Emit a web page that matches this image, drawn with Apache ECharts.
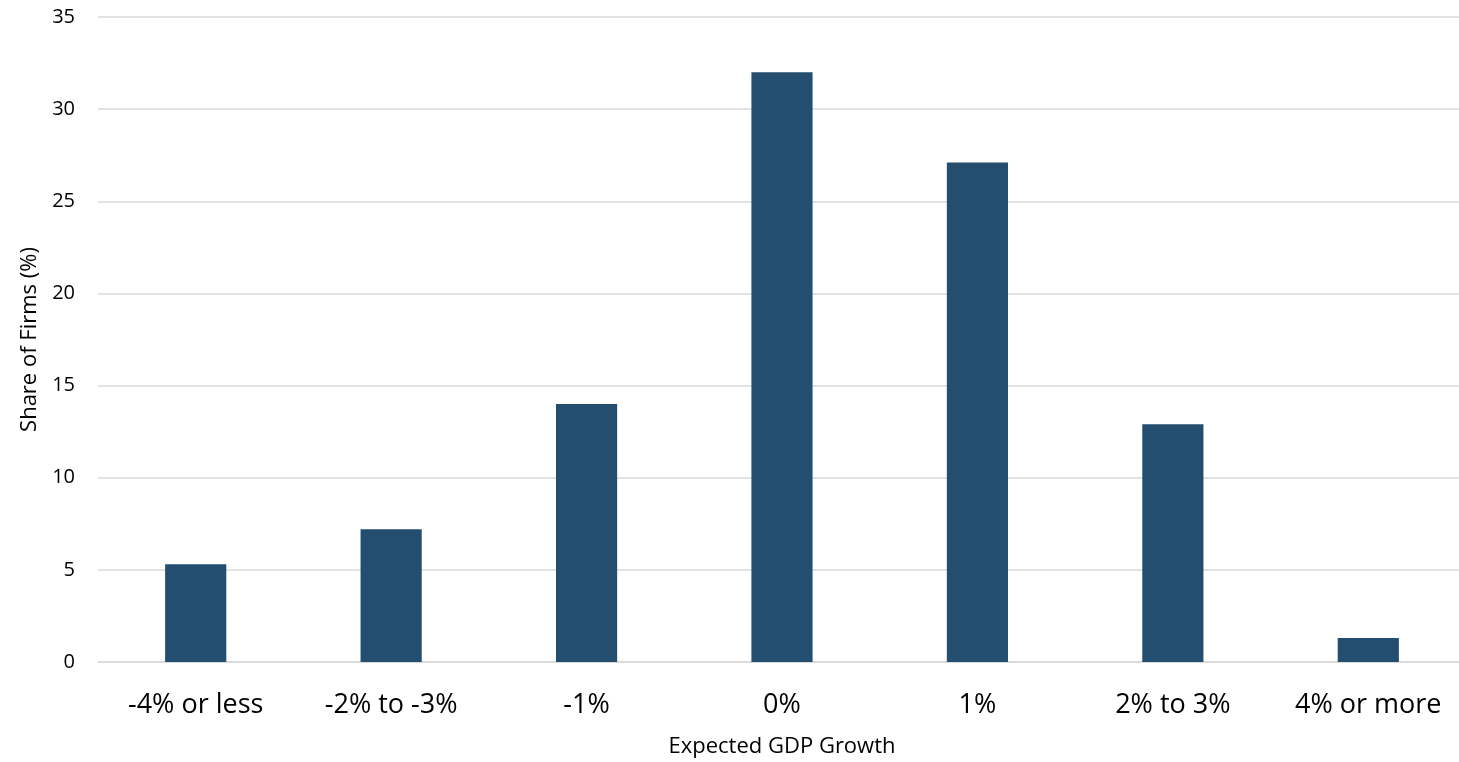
<!DOCTYPE html>
<html><head><meta charset="utf-8">
<script src="https://cdn.jsdelivr.net/npm/echarts@6/dist/echarts.min.js"></script>
<style>html,body{margin:0;padding:0;background:#fff}#c{width:1459px;height:762px}</style>
</head><body><div id="c"></div>
<script>
const categories = ['-4% or less','-2% to -3%','-1%','0%','1%','2% to 3%','4% or more'];
const shareOfFirms = [5.3, 7.2, 14.0, 32.0, 27.1, 12.9, 1.3];
const yTicks = {min: 0, max: 35, interval: 5};
const font = 'Open Sans, Liberation Sans, sans-serif';
const chart = echarts.init(document.getElementById('c'));
chart.setOption({
  animation: false,
  grid: {left: 98, top: 17, width: 1368, height: 645, containLabel: false, outerBoundsMode: 'none'},
  xAxis: {
    type: 'category', data: categories,
    axisLine: {show: true, lineStyle: {color: '#d9d9d9', width: 1.5}},
    axisTick: {show: false},
    axisLabel: {fontSize: 27, color: '#000', fontFamily: font, margin: 30},
    name: 'Expected GDP Growth', nameLocation: 'middle', nameGap: 74,
    nameTextStyle: {fontSize: 22, color: '#000', fontFamily: font}
  },
  yAxis: {
    type: 'value', min: yTicks.min, max: yTicks.max, interval: yTicks.interval,
    splitLine: {lineStyle: {color: '#d9d9d9', width: 1.5}},
    axisLine: {show: false}, axisTick: {show: false},
    axisLabel: {fontSize: 20, color: '#000', fontFamily: font, margin: 23},
    name: 'Share of Firms (%)', nameLocation: 'middle', nameGap: 57, nameRotate: 90,
    nameTextStyle: {fontSize: 22, color: '#000', fontFamily: font}
  },
  series: [{
    type: 'bar', data: shareOfFirms, barWidth: '31.3%',
    itemStyle: {color: '#234e70'}
  }]
});
</script></body></html>
